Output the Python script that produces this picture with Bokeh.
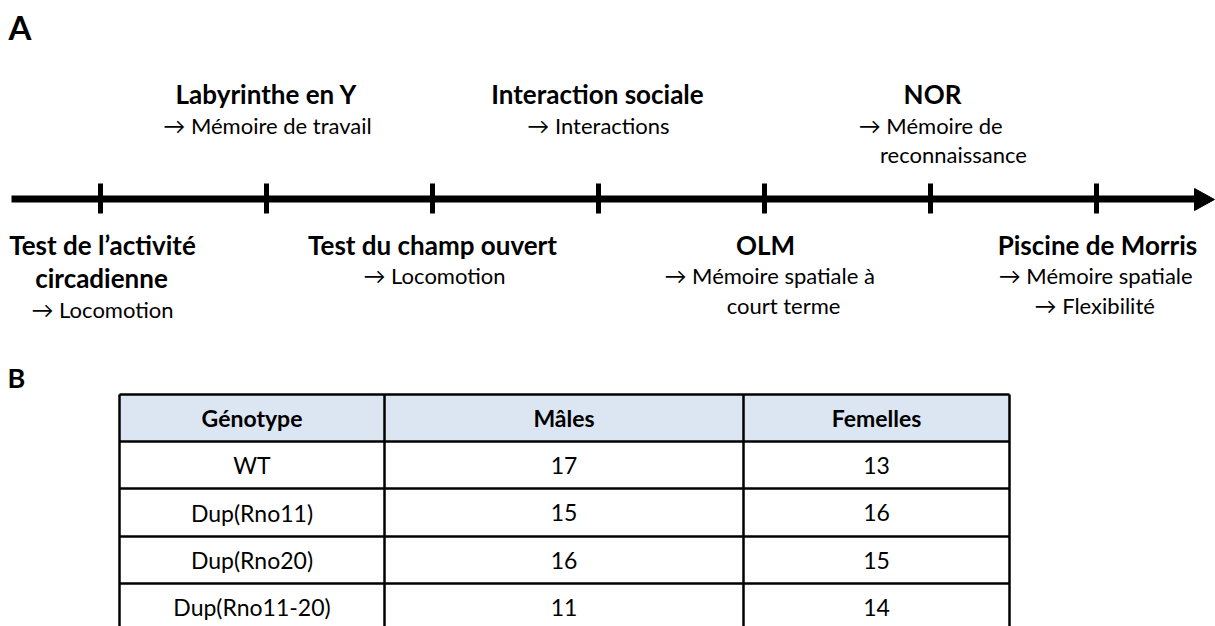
from bokeh.plotting import figure
from bokeh.models import Range1d
from bokeh.core.properties import value
from bokeh.embed import file_html
from bokeh.resources import INLINE

# ---------------- data ----------------
step_titles = [
    ["Test de l’activité", "circadienne"],
    ["Labyrinthe en Y"],
    ["Test du champ ouvert"],
    ["Interaction sociale"],
    ["OLM"],
    ["NOR"],
    ["Piscine de Morris"],
]
step_outcomes = [
    ["→ Locomotion"],
    ["→ Mémoire de travail"],
    ["→ Locomotion"],
    ["→ Interactions"],
    ["→  Mémoire spatiale à", "court terme"],
    ["→  Mémoire de", "reconnaissance"],
    ["→  Mémoire spatiale", "→  Flexibilité"],
]
step_side = ["below", "above", "below", "above", "below", "above", "below"]

table_header = ["Génotype", "Mâles", "Femelles"]
genotypes = ["WT", "Dup(Rno11)", "Dup(Rno20)", "Dup(Rno11-20)"]
males = [17, 15, 16, 11]
females = [13, 16, 15, 14]

# ---------------- layout ----------------
FONT = "Lato"
W, H = 1215, 626
p = figure(width=W, height=H, x_range=Range1d(0, W), y_range=Range1d(H, 0),
           output_backend="svg", toolbar_location=None, min_border=0)
p.axis.visible = False
p.grid.visible = False
p.outline_line_color = None
p.background_fill_color = "white"
p.border_fill_color = "white"

def txt(x, y, s, size, bold=False, align="center"):
    p.text(x=[x], y=[y], text=[s], text_font=value(FONT), text_font_size=f"{size}px",
           text_font_style="bold" if bold else "normal", text_align=align,
           text_baseline="middle", text_color="black")

# panel letters
txt(8, 26, "A", 33, True, "left")
txt(7, 377, "B", 27, True, "left")

# timeline
line_y = 198.5
p.segment(x0=[11], y0=[line_y], x1=[1197], y1=[line_y], line_width=7, line_color="black")
p.patch(x=[1194, 1214, 1194], y=[188, 199, 210], fill_color="black", line_color="black")

tick_x0, tick_dx = 100, 166
tick_xs = [tick_x0 + i * tick_dx for i in range(len(step_titles))]
p.segment(x0=tick_xs, y0=[183] * len(tick_xs), x1=tick_xs, y1=[213] * len(tick_xs),
          line_width=5, line_color="black")

# per-line horizontal nudges (layout only)
title_dx = [[2, 1], [0], [0], [-1], [1], [2], [1]]
out_dx = [[2], [1], [2], [0], [8, 19], [3, 23], [2, 1]]

for i, (tx, titles, outs, side) in enumerate(zip(tick_xs, step_titles, step_outcomes, step_side)):
    if side == "above":
        ys_t = [93]
        ys_o = [125, 154]
    else:
        if len(titles) == 2:
            ys_t = [244, 277]
            ys_o = [309]
        else:
            ys_t = [244]
            ys_o = [275, 305]
    for j, s in enumerate(titles):
        txt(tx + title_dx[i][j], ys_t[j], s, 26, True)
    for j, s in enumerate(outs):
        txt(tx + out_dx[i][j], ys_o[j], s, 22, False)

# table
col_edges = [119, 384, 743, 1009]
row_edges = [394, 441, 488, 536, 583, 630]
p.quad(left=[col_edges[0]], right=[col_edges[-1]], top=[row_edges[0]], bottom=[row_edges[1]],
       fill_color="#DCE6F2", line_color=None)
for ye in row_edges:
    p.segment(x0=[col_edges[0]], y0=[ye], x1=[col_edges[-1]], y1=[ye], line_width=2.5, line_color="black")
for xe in col_edges:
    p.segment(x0=[xe], y0=[row_edges[0]], x1=[xe], y1=[row_edges[-1]], line_width=2.5, line_color="black")

col_c = [(col_edges[k] + col_edges[k + 1]) / 2 for k in range(3)]
row_c = [(row_edges[k] + row_edges[k + 1]) / 2 for k in range(5)]
for k, h in enumerate(table_header):
    txt(col_c[k], row_c[0], h, 23, True)
for r, (g, m, f) in enumerate(zip(genotypes, males, females)):
    txt(col_c[0], row_c[r + 1], g, 23)
    txt(col_c[1], row_c[r + 1], str(m), 23)
    txt(col_c[2], row_c[r + 1], str(f), 23)

open("out.html", "w").write(file_html(p, INLINE))
